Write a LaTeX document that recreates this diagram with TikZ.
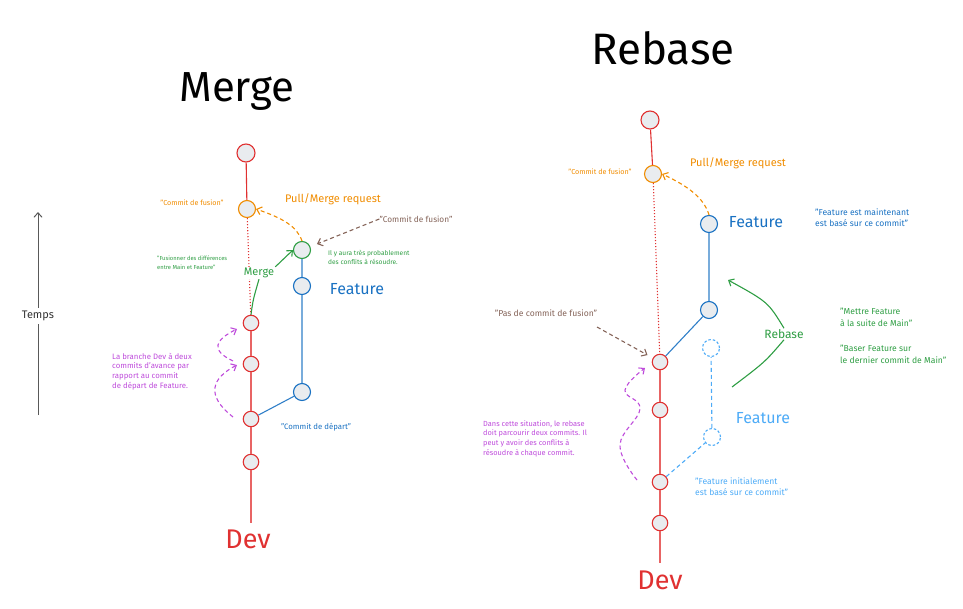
\documentclass[tikz,border=0pt]{standalone}
\usepackage{fontspec}
\setmainfont{Fira Sans}
\usetikzlibrary{arrows.meta}

\definecolor{devred}{HTML}{E03131}
\definecolor{fusorange}{HTML}{F08C00}
\definecolor{mergegreen}{HTML}{2F9E44}
\definecolor{featblue}{HTML}{1971C2}
\definecolor{oldblue}{HTML}{4DABF7}
\definecolor{notepurple}{HTML}{BE4BDB}
\definecolor{notebrown}{HTML}{846358}
\definecolor{commitgray}{HTML}{E9ECEF}

\begin{document}
\begin{tikzpicture}[x=1pt, y=-1pt,
    commit/.style={circle, draw=#1, fill=commitgray, line width=1.1pt,
                   minimum size=17pt, inner sep=0pt},
    small commit/.style={commit=#1, minimum size=15.5pt},
    ghost commit/.style={commit=#1, fill=white, dash pattern=on 2.5pt off 2pt},
    branch/.style={line width=1.1pt},
    dotted line/.style={dash pattern=on 1.2pt off 1.8pt},
    dashed line/.style={dash pattern=on 4pt off 3pt},
    tip/.style={-{Straight Barb[length=4.5pt,width=8pt]}},
    title/.style={font=\fontsize{#1}{#1}\selectfont, inner sep=0pt},
    note/.style={font=\fontsize{#1}{9.7}\selectfont, align=left, inner sep=0pt},
    wide note/.style={font=\fontsize{#1}{11.5}\selectfont, align=left, inner sep=0pt},
    tag/.style={font=\fontsize{#1}{#1}\selectfont, inner sep=1pt, fill=white}
]
    % Bounding box
    \useasboundingbox (0,0) rectangle (963,608);

    % Time axis
    \coordinate (tbot) at (38,415);
    \coordinate (ttop) at (38,212);
    \node[tag=11, text=black!80, inner sep=3pt] (ltemps) at (38,316) {Temps};
    \draw[line width=1pt, black!65] (tbot) -- (ltemps);
    \draw[line width=1pt, black!65, tip] (ltemps) -- (ttop);

    %%%%%%%%%%%%%%%%%%%%%%%%%%%%%%%%%%%%%%%% Merge
    \node[title=42] (tmerge) at (237,92) {Merge};

    % Commits, Dev
    \node[commit=devred, minimum size=18pt] (mc0) at (246,153) {};
    \node[commit=fusorange] (mfus) at (247,209) {};
    \foreach \y [count=\i] in {323,364,419,462}
        \node[small commit=devred] (md\i) at (251,\y) {};
    \coordinate (mend) at (251,523);
    \node[title=27, devred] (mdev) at (248,539) {Dev};

    % Commits, Feature
    \node[commit=featblue] (mf1) at (302,392) {};
    \node[commit=featblue] (mf2) at (302,286) {};
    \node[commit=mergegreen] (mmc) at (302,250) {};

    % Branches
    \draw[branch, devred] (mc0) -- (mfus);
    \draw[branch, devred, dotted line] (mfus) -- (md1);
    \draw[branch, devred!75] (md1) -- (md2) -- (md3) -- (md4) -- (mend);
    \draw[branch, featblue!90] (md3) -- (mf1) -- (mf2) -- (mmc);

    % Labels
    \node[title=16, featblue] (mfeat) at (357,289) {Feature};
    \node[title=11, fusorange] (mpull) at (333,199) {Pull/Merge request};
    \node[title=7.2, fusorange] (mfusl) at (192,203) {"Commit de fusion"};
    \node[title=8.3, notebrown] (mcfl) at (416,219) {"Commit de fusion"};
    \node[note=6.6, mergegreen, anchor=west] (mconf) at (328,257.5)
        {Il y aura très probablement\\des conflits à résoudre.};
    \node[note=5.8, mergegreen, anchor=west, font=\fontsize{5.8}{8.5}\selectfont] (mdiff) at (157,262.5)
        {"Fusionner des différences\\entre Main et Feature"};
    \node[note=7.8, notepurple, anchor=west] (mahead) at (112,371.5)
        {La branche Dev à deux\\commits d'avance par\\rapport au commit\\de départ de Feature.};
    \node[title=7.8, featblue] (mstart) at (316,427) {"Commit de départ"};
    \node[tag=11, text=mergegreen] (mmerge) at (259,273) {Merge};

    % Arrows
    \draw[branch, fusorange, dashed line, tip] (mmc.north) .. controls (297,226) and (282,218) .. (mfus.east);
    \draw[branch, notebrown, dashed line, tip, shorten >=7pt] (mcfl.west) -- (mmc);
    \draw[branch, mergegreen] (md1.north) .. controls (253,300) .. (mmerge.south);
    \draw[branch, mergegreen, tip] (mmerge.north east) -- (mmc.west);
    \coordinate (mp1) at (233,417);
    \coordinate (mp2) at (237,365);
    \coordinate (mp3) at (233,361);
    \coordinate (mp4) at (237,329);
    \draw[branch, notepurple, dashed line, tip] (mp1) .. controls (205,395) and (212,378) .. (mp2);
    \draw[branch, notepurple, dashed line, tip] (mp3) .. controls (210,350) and (215,340) .. (mp4);

    %%%%%%%%%%%%%%%%%%%%%%%%%%%%%%%%%%%%%%%% Rebase
    \node[title=44] (trebase) at (663,48) {Rebase};

    % Commits, Dev
    \node[commit=devred, minimum size=18pt] (rc0) at (650,120) {};
    \node[commit=fusorange] (rfus) at (653,174) {};
    \foreach \y [count=\i] in {362,410,482,523}
        \node[small commit=devred] (rd\i) at (660,\y) {};
    \coordinate (rend) at (660,563);
    \node[title=27, devred] (rdev) at (660,580) {Dev};

    % Commits, Feature (new and old)
    \node[commit=featblue] (rf1) at (709,310) {};
    \node[commit=featblue] (rf2) at (709,224) {};
    \node[ghost commit=oldblue] (ro1) at (712,437) {};
    \node[ghost commit=oldblue] (ro2) at (711,348) {};

    % Branches
    \draw[branch, devred] (rc0) -- (rfus);
    \draw[branch, devred, dotted line] (rfus) -- (rd1);
    \draw[branch, devred!75] (rd1) -- (rd2) -- (rd3) -- (rd4) -- (rend);
    \draw[branch, featblue!90] (rd1) -- (rf1) -- (rf2);
    \draw[branch, oldblue, dashed line] (rd3) -- (ro1) -- (ro2);

    % Labels
    \node[title=16, featblue] (rfeat) at (756,222) {Feature};
    \node[title=16, oldblue] (rold) at (763,418) {Feature};
    \node[title=11, fusorange] (rpull) at (738,163) {Pull/Merge request};
    \node[title=7.2, fusorange] (rfusl) at (600,172) {"Commit de fusion"};
    \node[wide note=8.6, featblue, anchor=west] (rnow) at (815,217.5)
        {"Feature est maintenant\\est basé sur ce commit"};
    \node[wide note=8.6, mergegreen, anchor=west] (rafter) at (840,317.5)
        {"Mettre Feature\\à la suite de Main"};
    \node[wide note=8.6, mergegreen, anchor=west] (rbase) at (840,354.5)
        {"Baser Feature sur\\le dernier commit de Main"};
    \node[title=8.6, notebrown] (rnofus) at (546,313) {"Pas de commit de fusion"};
    \node[note=7.4, notepurple, anchor=west] (rsit) at (483,438.5)
        {Dans cette situation, le rebase\\doit parcourir deux commits. Il\\peut y avoir des conflits à\\résoudre à chaque commit.};
    \node[wide note=8.6, oldblue, anchor=west] (rinit) at (695,486.5)
        {"Feature initialement\\est basé sur ce commit"};
    \node[tag=12, text=mergegreen] (rrebase) at (784,334) {Rebase};

    % Arrows
    \draw[branch, fusorange, dashed line, tip] (rf2.north) .. controls (704,198) and (688,186) .. (rfus.east);
    \coordinate (rb0) at (597,327);
    \draw[branch, notebrown, dashed line, tip, shorten >=6pt] (rb0) -- (rd1);
    \coordinate (rg0) at (732,387);
    \coordinate (rg1) at (728,280);
    \draw[branch, mergegreen] (rg0) .. controls (765,362) .. (rrebase.south);
    \draw[branch, mergegreen, tip] (rrebase.north) .. controls (768,302) .. (rg1);
    \draw[branch, notepurple, dashed line, tip] plot[smooth, tension=0.7] coordinates
        {(637,480) (620,445) (640,409) (625,390) (645,368)};

\end{tikzpicture}
\end{document}
